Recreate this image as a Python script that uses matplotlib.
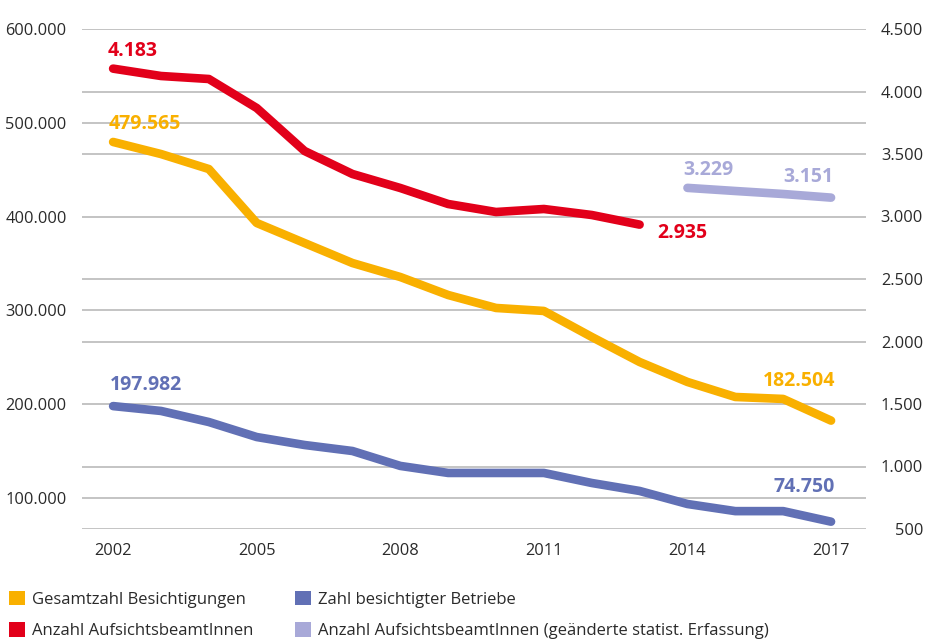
import matplotlib.pyplot as plt
from matplotlib.patches import Patch
from matplotlib.ticker import FuncFormatter

plt.rcParams["font.family"] = ["Open Sans", "DejaVu Sans"]

years = list(range(2002, 2018))
besichtigungen = [479565, 466700, 450700, 393200, 371800, 350500, 335600, 316400,
                  302600, 299400, 271700, 245000, 223700, 207700, 205600, 182504]
betriebe = [197982, 192800, 181000, 165000, 156500, 150100, 134200, 126700,
            126700, 126700, 116000, 107500, 93600, 86000, 86000, 74750]
years_beamte = list(range(2002, 2014))
beamte = [4183, 4124, 4100, 3868, 3524, 3340, 3228, 3100, 3036, 3060, 3012, 2935]
years_beamte_neu = list(range(2014, 2018))
beamte_neu = [3229, 3204, 3180, 3151]

left_ticks = [100000, 200000, 300000, 400000, 500000, 600000]
right_ticks = [500, 1000, 1500, 2000, 2500, 3000, 3500, 4000, 4500]
x_ticks = [2002, 2005, 2008, 2011, 2014, 2017]

ORANGE = "#F9B000"
RED = "#E2001A"
BLUE = "#6170B5"
LILAC = "#A8A9D8"
GRID = "#C4C4C4"
TEXT = "#2A2A2A"

left_lim = (66950, 600000)
right_lim = (500, 4500)
x_lim = (2001.35, 2017.73)


def dotted(v, _pos=None):
    # german thousands separator
    return f"{int(v):,}".replace(",", ".")


fig = plt.figure(figsize=(9.28, 6.39), dpi=100)
rect = [82 / 928, 1 - 529 / 639, 784 / 928, 500 / 639]

# grid layers sit below the data layers so no gridline crosses a series
grid_l = fig.add_axes(rect, zorder=0)
grid_r = grid_l.twinx()
grid_r.set_zorder(0.5)
ax = fig.add_axes(rect, zorder=1, label="data_left")
ax2 = ax.twinx()
ax2.set_zorder(2)

for a in (grid_l, grid_r, ax, ax2):
    a.set_xlim(*x_lim)
    for s in a.spines.values():
        s.set_visible(False)
for a in (grid_r, ax, ax2):
    a.patch.set_visible(False)

grid_l.set_ylim(*left_lim)
grid_r.set_ylim(*right_lim)
ax.set_ylim(*left_lim)
ax2.set_ylim(*right_lim)

grid_l.set_yticks(left_ticks)
grid_l.yaxis.set_major_formatter(FuncFormatter(dotted))
grid_l.set_xticks(x_ticks)
grid_l.tick_params(axis="y", length=0, pad=11, labelsize=11.8, labelcolor=TEXT)
grid_l.tick_params(axis="x", length=0, pad=10, labelsize=11.8, labelcolor=TEXT)
grid_l.grid(axis="y", color=GRID, linewidth=1.4)
grid_l.grid(axis="x", visible=False)

grid_r.set_yticks(right_ticks)
grid_r.yaxis.set_major_formatter(FuncFormatter(dotted))
grid_r.tick_params(axis="y", length=0, pad=41, labelsize=11.8, labelcolor=TEXT)
for lab in grid_r.get_yticklabels():
    lab.set_horizontalalignment("right")
grid_r.grid(axis="y", color=GRID, linewidth=1.4)

for a in (ax, ax2):
    a.set_xticks([])
    a.set_yticks([])

line_kw = dict(linewidth=6.2, solid_capstyle="round", solid_joinstyle="round")
ax.plot(years, besichtigungen, color=ORANGE, **line_kw)
ax.plot(years, betriebe, color=BLUE, **line_kw)
ax2.plot(years_beamte, beamte, color=RED, **line_kw)
ax2.plot(years_beamte_neu, beamte_neu, color=LILAC, **line_kw)

lab_kw = dict(textcoords="offset points", fontsize=14, fontweight="bold")
ax2.annotate(dotted(beamte[0]), (years_beamte[0], beamte[0]), xytext=(-4, 5.5),
             ha="left", va="bottom", color=RED, **lab_kw)
ax.annotate(dotted(besichtigungen[0]), (years[0], besichtigungen[0]), xytext=(-3, 6),
            ha="left", va="bottom", color=ORANGE, **lab_kw)
ax.annotate(dotted(betriebe[0]), (years[0], betriebe[0]), xytext=(-2, 8),
            ha="left", va="bottom", color=BLUE, **lab_kw)
ax2.annotate(dotted(beamte[-1]), (years_beamte[-1], beamte[-1]), xytext=(13, -6),
             ha="left", va="center", color=RED, **lab_kw)
ax2.annotate(dotted(beamte_neu[0]), (years_beamte_neu[0], beamte_neu[0]), xytext=(-3, 6),
             ha="left", va="bottom", color=LILAC, **lab_kw)
ax2.annotate(dotted(beamte_neu[-1]), (years_beamte_neu[-1], beamte_neu[-1]), xytext=(2, 8),
             ha="right", va="bottom", color=LILAC, **lab_kw)
ax.annotate(dotted(besichtigungen[-1]), (years[-1], besichtigungen[-1]), xytext=(3, 21),
            ha="right", va="bottom", color=ORANGE, **lab_kw)
ax.annotate(dotted(betriebe[-1]), (years[-1], betriebe[-1]), xytext=(3, 18),
            ha="right", va="bottom", color=BLUE, **lab_kw)

leg_kw = dict(loc="upper left", frameon=False, fontsize=12, handlelength=0.96,
              handleheight=0.96, handletextpad=0.45, borderpad=0, borderaxespad=0,
              labelspacing=0.85, labelcolor=TEXT, bbox_transform=fig.transFigure)
fig.legend([Patch(facecolor=ORANGE), Patch(facecolor=RED)],
           ["Gesamtzahl Besichtigungen", "Anzahl AufsichtsbeamtInnen"],
           bbox_to_anchor=(9 / 928, 1 - 591 / 639), **leg_kw)
fig.legend([Patch(facecolor=BLUE), Patch(facecolor=LILAC)],
           ["Zahl besichtigter Betriebe",
            "Anzahl AufsichtsbeamtInnen (geänderte statist. Erfassung)"],
           bbox_to_anchor=(295 / 928, 1 - 591 / 639), **leg_kw)

fig.savefig("out.png", dpi=100)
